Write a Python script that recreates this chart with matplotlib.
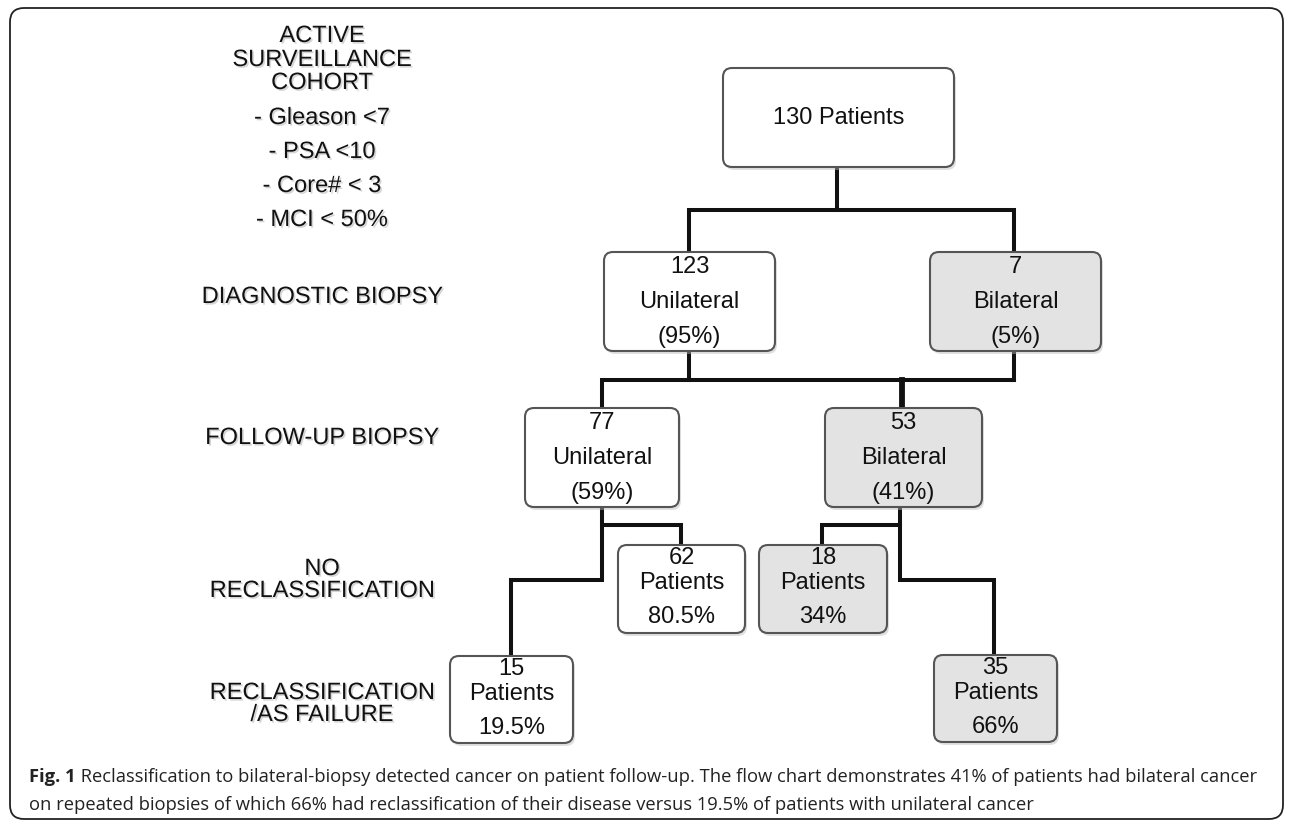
import matplotlib
matplotlib.use("Agg")
from matplotlib import pyplot as plt
from matplotlib.patches import FancyBboxPatch
import matplotlib.patheffects as pe

# --- chart content ---
cohort_title = ["ACTIVE", "SURVEILLANCE", "COHORT"]
criteria = ["- Gleason <7", "- PSA <10", "- Core# < 3", "- MCI < 50%"]
stage_labels = ["DIAGNOSTIC BIOPSY", "FOLLOW-UP BIOPSY",
                "NO\nRECLASSIFICATION", "RECLASSIFICATION\n/AS FAILURE"]

node_ids = ["root", "uni1", "bi1", "uni2", "bi2", "noreU", "reU", "noreB", "reB"]
node_counts = [130, 123, 7, 77, 53, 62, 15, 18, 35]
node_kinds = ["Patients", "Unilateral", "Bilateral", "Unilateral", "Bilateral",
              "Patients", "Patients", "Patients", "Patients"]
node_pcts = ["", "(95%)", "(5%)", "(59%)", "(41%)", "80.5%", "19.5%", "34%", "66%"]
node_shaded = [False, False, True, False, True, False, False, True, True]

caption_bold = "Fig. 1"
caption_1 = (" Reclassification to bilateral-biopsy detected cancer on patient follow-up. "
             "The flow chart demonstrates 41% of patients had bilateral cancer")
caption_2 = ("on repeated biopsies of which 66% had reclassification of their disease "
             "versus 19.5% of patients with unilateral cancer")

# --- layout (pixel space, y down) ---
boxes = {
    "root": (723, 68, 954, 167),
    "uni1": (604, 252, 775, 351),
    "bi1": (930, 252, 1101, 351),
    "uni2": (525, 408, 679, 507),
    "bi2": (825, 408, 982, 507),
    "noreU": (618, 545, 745, 633),
    "reU": (450, 656, 573, 743),
    "noreB": (759, 545, 887, 633),
    "reB": (934, 655, 1057, 742),
}
connectors = [
    [(837, 168), (837, 210)],
    [(689, 252), (689, 210), (1014, 210), (1014, 252)],
    [(689, 351), (689, 380)],
    [(1014, 351), (1014, 380)],
    [(602, 408), (602, 380), (1014, 380)],
    [(602, 507), (602, 580), (511, 580), (511, 656)],
    [(602, 525), (681, 525), (681, 545)],
    [(900, 507), (900, 580), (994, 580), (994, 655)],
    [(900, 525), (822, 525), (822, 545)],
]

W, H = 1292, 822
fig = plt.figure(figsize=(W / 100, H / 100), dpi=100)
ax = fig.add_axes([0, 0, 1, 1])
ax.set_xlim(0, W)
ax.set_ylim(H, 0)
ax.axis("off")

FONT = "Liberation Sans"
FS = 17
shadow = [pe.withSimplePatchShadow(offset=(1.2, -1.2), shadow_rgbFace="#888888", alpha=0.35)]

# outer frame
ax.add_patch(FancyBboxPatch((10, 8), 1273, 811, boxstyle="round,pad=0,rounding_size=14",
                            fc="white", ec="#222222", lw=1.3, zorder=0))

# connectors
for seg in connectors:
    xs, ys = zip(*seg)
    ax.plot(xs, ys, color="#111111", lw=2.9, solid_capstyle="projecting",
            solid_joinstyle="miter", zorder=2)
# double-drawn stem into the 53 box
ax.plot([902, 902], [380, 408], color="#111111", lw=4.2, zorder=2)

# boxes
for nid, cnt, kind, pct, shaded in zip(node_ids, node_counts, node_kinds, node_pcts, node_shaded):
    x0, y0, x1, y1 = boxes[nid]
    ax.add_patch(FancyBboxPatch((x0 + 2, y0 + 3), x1 - x0, y1 - y0,
                                boxstyle="round,pad=0,rounding_size=9",
                                fc="#bbbbbb", ec="none", alpha=0.45, zorder=3))
    ax.add_patch(FancyBboxPatch((x0, y0), x1 - x0, y1 - y0,
                                boxstyle="round,pad=0,rounding_size=9",
                                fc="#e3e3e3" if shaded else "white",
                                ec="#555555", lw=1.5, zorder=4))
    cx = (x0 + x1) / 2
    h = y1 - y0
    if nid == "root":
        ax.text(cx, (y0 + y1) / 2 + 1, f"{cnt} {kind}", ha="center", va="center",
                fontsize=FS, family=FONT, color="#111111", zorder=5)
        continue
    if h > 95:
        offs = [15, 50, 85]
    else:
        offs = [13, 38, 72]
    for off, s in zip(offs, [str(cnt), kind, pct]):
        ax.text(cx, y0 + off, s, ha="center", va="center", fontsize=FS,
                family=FONT, color="#111111", zorder=5)

# left column labels
LX = 322
for y, s in zip([36, 60, 83], cohort_title):
    ax.text(LX, y, s, ha="center", va="center", fontsize=FS, family=FONT,
            color="#111111", path_effects=shadow)
for y, s in zip([118, 152, 186, 220], criteria):
    ax.text(LX, y, s, ha="center", va="center", fontsize=FS, family=FONT,
            color="#111111", path_effects=shadow)
for y, s in zip([297, 438, 580, 704], stage_labels):
    ax.text(LX, y, s, ha="center", va="center", fontsize=FS, family=FONT,
            color="#111111", linespacing=1.0, path_effects=shadow)

# caption
CFS = 13.2
bold = ax.text(29, 777, caption_bold, ha="left", va="center", fontsize=CFS,
               family="Open Sans", weight="bold", color="#222222")
ax.annotate(caption_1, xy=(1, 0.5), xycoords=bold, ha="left", va="center",
            fontsize=CFS, family="Open Sans", color="#222222")
ax.text(29, 805, caption_2, ha="left", va="center", fontsize=CFS,
        family="Open Sans", color="#222222")

fig.savefig("out.png", dpi=100)
